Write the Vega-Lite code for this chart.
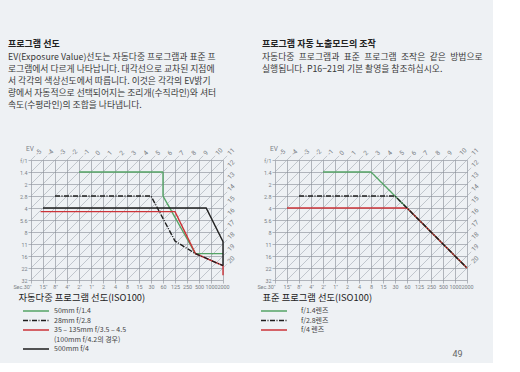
{
  "$schema": "https://vega.github.io/schema/vega-lite/v6.json",
  "background": "#eef1f4",
  "padding": {"left": 8, "top": 40, "right": 10, "bottom": 4},
  "bounds": "flush",
  "spacing": 52,
  "config": {
    "view": {"stroke": null},
    "font": "Noto Sans CJK KR",
    "axis": {
      "labelFont": "Roboto",
      "labelFontSize": 5.4,
      "labelColor": "#7a7f86",
      "tickColor": "#868c94",
      "tickSize": 3,
      "tickWidth": 0.6,
      "gridColor": "#868c94",
      "gridWidth": 0.6,
      "gridOpacity": 1,
      "domain": false,
      "labelPadding": 1,
      "labelOverlap": false,
      "labelFlush": false,
      "labelBound": false
    },
    "legend": {
      "orient": "none",
      "direction": "vertical",
      "symbolType": "M-1,0H4.2",
      "symbolSize": 100,
      "symbolStrokeWidth": 1.5,
      "labelFont": "Noto Sans CJK KR",
      "labelFontSize": 7,
      "labelColor": "#444",
      "rowPadding": 0.5,
      "padding": 0
    }
  },
  "datasets": {
    "ev": [
      {"ev": -5, "i1": 0, "j1": 0, "i2": 0.35, "j2": -0.35},
      {"ev": -4, "i1": 0, "j1": 1, "i2": 1.35, "j2": -0.35},
      {"ev": -3, "i1": 0, "j1": 2, "i2": 2.35, "j2": -0.35},
      {"ev": -2, "i1": 0, "j1": 3, "i2": 3.35, "j2": -0.35},
      {"ev": -1, "i1": 0, "j1": 4, "i2": 4.35, "j2": -0.35},
      {"ev": 0, "i1": 0, "j1": 5, "i2": 5.35, "j2": -0.35},
      {"ev": 1, "i1": 0, "j1": 6, "i2": 6.35, "j2": -0.35},
      {"ev": 2, "i1": 0, "j1": 7, "i2": 7.35, "j2": -0.35},
      {"ev": 3, "i1": 0, "j1": 8, "i2": 8.35, "j2": -0.35},
      {"ev": 4, "i1": 0, "j1": 9, "i2": 9.35, "j2": -0.35},
      {"ev": 5, "i1": 0, "j1": 10, "i2": 10.35, "j2": -0.35},
      {"ev": 6, "i1": 1, "j1": 10, "i2": 11.35, "j2": -0.35},
      {"ev": 7, "i1": 2, "j1": 10, "i2": 12.35, "j2": -0.35},
      {"ev": 8, "i1": 3, "j1": 10, "i2": 13.35, "j2": -0.35},
      {"ev": 9, "i1": 4, "j1": 10, "i2": 14.35, "j2": -0.35},
      {"ev": 10, "i1": 5, "j1": 10, "i2": 15.35, "j2": -0.35},
      {"ev": 11, "i1": 6, "j1": 10, "i2": 16.35, "j2": -0.35},
      {"ev": 12, "i1": 7, "j1": 10, "i2": 16.35, "j2": 0.65},
      {"ev": 13, "i1": 8, "j1": 10, "i2": 16.35, "j2": 1.65},
      {"ev": 14, "i1": 9, "j1": 10, "i2": 16.35, "j2": 2.65},
      {"ev": 15, "i1": 10, "j1": 10, "i2": 16.35, "j2": 3.65},
      {"ev": 16, "i1": 11, "j1": 10, "i2": 16.35, "j2": 4.65},
      {"ev": 17, "i1": 12, "j1": 10, "i2": 16.35, "j2": 5.65},
      {"ev": 18, "i1": 13, "j1": 10, "i2": 16.35, "j2": 6.65},
      {"ev": 19, "i1": 14, "j1": 10, "i2": 16.35, "j2": 7.65},
      {"ev": 20, "i1": 15, "j1": 10, "i2": 16.35, "j2": 8.65}
    ],
    "auto": [
      {"lens": "50mm f/1.4", "k": 1, "i": 4, "j": 1},
      {"lens": "50mm f/1.4", "k": 2, "i": 11, "j": 1},
      {"lens": "50mm f/1.4", "k": 3, "i": 11, "j": 3},
      {"lens": "50mm f/1.4", "k": 4, "i": 13.7, "j": 7.8},
      {"lens": "50mm f/1.4", "k": 5, "i": 16, "j": 7.8},
      {"lens": "35 – 135mm f/3.5 – 4.5", "k": 1, "i": 0.8, "j": 4.3},
      {"lens": "35 – 135mm f/3.5 – 4.5", "k": 2, "i": 12, "j": 4.3},
      {"lens": "35 – 135mm f/3.5 – 4.5", "k": 3, "i": 13.7, "j": 7.8},
      {"lens": "35 – 135mm f/3.5 – 4.5", "k": 4, "i": 16, "j": 8.8},
      {"lens": "35 – 135mm f/3.5 – 4.5", "k": 5, "i": 16, "j": 9.6},
      {"lens": "28mm f/2.8", "k": 1, "i": 2, "j": 3},
      {"lens": "28mm f/2.8", "k": 2, "i": 10, "j": 3},
      {"lens": "28mm f/2.8", "k": 3, "i": 12, "j": 6.75},
      {"lens": "28mm f/2.8", "k": 4, "i": 13.7, "j": 7.8},
      {"lens": "28mm f/2.8", "k": 5, "i": 16, "j": 8.8},
      {"lens": "500mm f/4", "k": 1, "i": 1, "j": 4},
      {"lens": "500mm f/4", "k": 2, "i": 14.6, "j": 4},
      {"lens": "500mm f/4", "k": 3, "i": 16, "j": 6.8},
      {"lens": "500mm f/4", "k": 4, "i": 16, "j": 8.8}
    ],
    "standard": [
      {"lens": "f/1.4렌즈", "k": 1, "i": 4, "j": 1},
      {"lens": "f/1.4렌즈", "k": 2, "i": 8, "j": 1},
      {"lens": "f/1.4렌즈", "k": 3, "i": 10, "j": 3},
      {"lens": "f/1.4렌즈", "k": 4, "i": 11, "j": 4},
      {"lens": "f/1.4렌즈", "k": 5, "i": 16, "j": 9},
      {"lens": "f/4 렌즈", "k": 1, "i": 1, "j": 4},
      {"lens": "f/4 렌즈", "k": 2, "i": 11, "j": 4},
      {"lens": "f/4 렌즈", "k": 3, "i": 16, "j": 9},
      {"lens": "f/2.8렌즈", "k": 1, "i": 2, "j": 3},
      {"lens": "f/2.8렌즈", "k": 2, "i": 10, "j": 3},
      {"lens": "f/2.8렌즈", "k": 3, "i": 11, "j": 4},
      {"lens": "f/2.8렌즈", "k": 4, "i": 16, "j": 9}
    ]
  },
  "title": {
    "text": "49",
    "orient": "bottom",
    "anchor": "end",
    "font": "Roboto",
    "fontSize": 9,
    "fontWeight": "normal",
    "color": "#666",
    "offset": 0,
    "dx": -20,
    "dy": -2
  },
  "hconcat": [
    {
      "width": 192,
      "height": 120,
      "title": {
        "text": "프로그램 선도",
        "subtitle": [
          "EV(Exposure Value)선도는 자동다중 프로그램과 표준 프",
          "로그램에서 다르게 나타납니다. 대각선으로 교차된 지점에",
          "서 각각의 색상선도에서 따릅니다. 이것은 각각의 EV밝기",
          "량에서 자동적으로 선택되어지는 조리개(수직라인)와 셔터",
          "속도(수평라인)의 조합을 나타냅니다."
        ],
        "anchor": "start",
        "frame": "group",
        "dx": -23,
        "offset": 36,
        "font": "Noto Sans CJK KR",
        "fontSize": 9,
        "fontWeight": "bold",
        "color": "#222",
        "subtitleFont": "Noto Sans CJK KR",
        "subtitleFontSize": 8.8,
        "subtitleColor": "#3a3a3a",
        "subtitleLineHeight": 12,
        "subtitlePadding": 4
      },
      "layer": [
        {
          "data": {"name": "ev"},
          "mark": {"type": "rule", "color": "#a3aab1", "strokeWidth": 0.6},
          "encoding": {
            "x": {
              "field": "i1", "type": "quantitative",
              "scale": {"domain": [0, 16], "nice": false, "zero": false},
              "axis": {
                "values": [0,1,2,3,4,5,6,7,8,9,10,11,12,13,14,15,16],
                "grid": true,
                "labelAlign": {"condition": {"test": "datum.value == 0", "value": "right"}, "value": "center"},
                "labelExpr": "['Sec.30\"','15\"','8\"','4\"','2\"','1\"','2','4','8','15','30','60','125','250','500','1000','2000'][datum.value]",
                "title": "자동다중 프로그램 선도(ISO100)",
                "titleFont": "Noto Sans CJK KR",
                "titleFontSize": 9.3,
                "titleFontWeight": "normal",
                "titleColor": "#222",
                "titleAnchor": "start",
                "titleAlign": "left",
                "titleX": -13,
                "titleY": 13
              }
            },
            "x2": {"field": "i2"},
            "y": {
              "field": "j1", "type": "quantitative",
              "scale": {"domain": [0, 10], "reverse": true, "nice": false, "zero": false},
              "axis": {
                "values": [0,1,2,3,4,5,6,7,8,9,10],
                "grid": true,
                "labelExpr": "['f/1','1.4','2','2.8','4','5.6','8','11','16','22','32'][datum.value]",
                "title": null
              }
            },
            "y2": {"field": "j2"}
          }
        },
        {
          "data": {"name": "ev"},
          "mark": {"type": "text", "angle": -45, "align": "left", "baseline": "middle", "dx": 2, "font": "Roboto", "fontSize": 6.5, "color": "#7a7f86"},
          "encoding": {
            "x": {
              "field": "i2", "type": "quantitative",
              "axis": {
                "values": [0,1,2,3,4,5,6,7,8,9,10,11,12,13,14,15,16],
                "grid": true,
                "labelAlign": {"condition": {"test": "datum.value == 0", "value": "right"}, "value": "center"},
                "labelExpr": "['Sec.30\"','15\"','8\"','4\"','2\"','1\"','2','4','8','15','30','60','125','250','500','1000','2000'][datum.value]",
                "title": "자동다중 프로그램 선도(ISO100)",
                "titleFont": "Noto Sans CJK KR",
                "titleFontSize": 9.3,
                "titleFontWeight": "normal",
                "titleColor": "#222",
                "titleAnchor": "start",
                "titleAlign": "left",
                "titleX": -13,
                "titleY": 13
              }
            },
            "y": {
              "field": "j2", "type": "quantitative",
              "axis": {
                "values": [0,1,2,3,4,5,6,7,8,9,10],
                "grid": true,
                "labelExpr": "['f/1','1.4','2','2.8','4','5.6','8','11','16','22','32'][datum.value]",
                "title": null
              }
            },
            "text": {"field": "ev", "type": "nominal"}
          }
        },
        {
          "data": {"name": "ev"},
          "transform": [{"filter": "datum.ev == -5"}],
          "mark": {"type": "text", "text": "EV", "align": "center", "baseline": "middle", "dx": -1, "dy": -11, "font": "Roboto", "fontSize": 6.5, "color": "#7a7f86"},
          "encoding": {
            "x": {
              "field": "i1", "type": "quantitative",
              "axis": {
                "values": [0,1,2,3,4,5,6,7,8,9,10,11,12,13,14,15,16],
                "grid": true,
                "labelAlign": {"condition": {"test": "datum.value == 0", "value": "right"}, "value": "center"},
                "labelExpr": "['Sec.30\"','15\"','8\"','4\"','2\"','1\"','2','4','8','15','30','60','125','250','500','1000','2000'][datum.value]",
                "title": "자동다중 프로그램 선도(ISO100)",
                "titleFont": "Noto Sans CJK KR",
                "titleFontSize": 9.3,
                "titleFontWeight": "normal",
                "titleColor": "#222",
                "titleAnchor": "start",
                "titleAlign": "left",
                "titleX": -13,
                "titleY": 13
              }
            },
            "y": {
              "field": "j1", "type": "quantitative",
              "axis": {
                "values": [0,1,2,3,4,5,6,7,8,9,10],
                "grid": true,
                "labelExpr": "['f/1','1.4','2','2.8','4','5.6','8','11','16','22','32'][datum.value]",
                "title": null
              }
            }
          }
        },
        {
          "data": {"name": "auto"},
          "mark": {"type": "line", "strokeWidth": 1.4},
          "encoding": {
            "x": {
              "field": "i", "type": "quantitative",
              "axis": {
                "values": [0,1,2,3,4,5,6,7,8,9,10,11,12,13,14,15,16],
                "grid": true,
                "labelAlign": {"condition": {"test": "datum.value == 0", "value": "right"}, "value": "center"},
                "labelExpr": "['Sec.30\"','15\"','8\"','4\"','2\"','1\"','2','4','8','15','30','60','125','250','500','1000','2000'][datum.value]",
                "title": "자동다중 프로그램 선도(ISO100)",
                "titleFont": "Noto Sans CJK KR",
                "titleFontSize": 9.3,
                "titleFontWeight": "normal",
                "titleColor": "#222",
                "titleAnchor": "start",
                "titleAlign": "left",
                "titleX": -13,
                "titleY": 13
              }
            },
            "y": {
              "field": "j", "type": "quantitative",
              "axis": {
                "values": [0,1,2,3,4,5,6,7,8,9,10],
                "grid": true,
                "labelExpr": "['f/1','1.4','2','2.8','4','5.6','8','11','16','22','32'][datum.value]",
                "title": null
              }
            },
            "order": {"field": "k"},
            "color": {
              "field": "lens", "type": "nominal",
              "scale": {
                "domain": ["50mm f/1.4", "28mm f/2.8", "35 – 135mm f/3.5 – 4.5", "(100mm f/4.2의 경우)", "500mm f/4"],
                "range": ["#55a466", "#1e1e1e", "#cc3338", "transparent", "#1e1e1e"]
              },
              "legend": {"title": null, "legendX": -9, "legendY": 145, "labelOffset": 20}
            },
            "strokeDash": {
              "field": "lens", "type": "nominal",
              "scale": {
                "domain": ["50mm f/1.4", "28mm f/2.8", "35 – 135mm f/3.5 – 4.5", "(100mm f/4.2의 경우)", "500mm f/4"],
                "range": [[1, 0], [5, 1.5, 1, 1.5], [1, 0], [1, 0], [1, 0]]
              },
              "legend": {"title": null, "legendX": -9, "legendY": 145, "labelOffset": 20}
            }
          }
        }
      ]
    },
    {
      "width": 192,
      "height": 120,
      "title": {
        "text": "프로그램 자동 노출모드의 조작",
        "subtitle": [
          "자동다중\u2002프로그램과\u2002표준\u2002프로그램\u2002조작은\u2002같은\u2002방법으로",
          "실행됩니다. P16−21의 기본 촬영을 참조하십시오."
        ],
        "anchor": "start",
        "frame": "group",
        "dx": -13,
        "offset": 72,
        "font": "Noto Sans CJK KR",
        "fontSize": 9,
        "fontWeight": "bold",
        "color": "#222",
        "subtitleFont": "Noto Sans CJK KR",
        "subtitleFontSize": 8.8,
        "subtitleColor": "#3a3a3a",
        "subtitleLineHeight": 12,
        "subtitlePadding": 4
      },
      "layer": [
        {
          "data": {"name": "ev"},
          "mark": {"type": "rule", "color": "#a3aab1", "strokeWidth": 0.6},
          "encoding": {
            "x": {
              "field": "i1", "type": "quantitative",
              "scale": {"domain": [0, 16], "nice": false, "zero": false},
              "axis": {
                "values": [0,1,2,3,4,5,6,7,8,9,10,11,12,13,14,15,16],
                "grid": true,
                "labelAlign": {"condition": {"test": "datum.value == 0", "value": "right"}, "value": "center"},
                "labelExpr": "['Sec.30\"','15\"','8\"','4\"','2\"','1\"','2','4','8','15','30','60','125','250','500','1000','2000'][datum.value]",
                "title": "표준 프로그램 선도(ISO100)",
                "titleFont": "Noto Sans CJK KR",
                "titleFontSize": 9.3,
                "titleFontWeight": "normal",
                "titleColor": "#222",
                "titleAnchor": "start",
                "titleAlign": "left",
                "titleX": -13,
                "titleY": 13
              }
            },
            "x2": {"field": "i2"},
            "y": {
              "field": "j1", "type": "quantitative",
              "scale": {"domain": [0, 10], "reverse": true, "nice": false, "zero": false},
              "axis": {
                "values": [0,1,2,3,4,5,6,7,8,9,10],
                "grid": true,
                "labelExpr": "['f/1','1.4','2','2.8','4','5.6','8','11','16','22','32'][datum.value]",
                "title": null
              }
            },
            "y2": {"field": "j2"}
          }
        },
        {
          "data": {"name": "ev"},
          "mark": {"type": "text", "angle": -45, "align": "left", "baseline": "middle", "dx": 2, "font": "Roboto", "fontSize": 6.5, "color": "#7a7f86"},
          "encoding": {
            "x": {
              "field": "i2", "type": "quantitative",
              "axis": {
                "values": [0,1,2,3,4,5,6,7,8,9,10,11,12,13,14,15,16],
                "grid": true,
                "labelAlign": {"condition": {"test": "datum.value == 0", "value": "right"}, "value": "center"},
                "labelExpr": "['Sec.30\"','15\"','8\"','4\"','2\"','1\"','2','4','8','15','30','60','125','250','500','1000','2000'][datum.value]",
                "title": "표준 프로그램 선도(ISO100)",
                "titleFont": "Noto Sans CJK KR",
                "titleFontSize": 9.3,
                "titleFontWeight": "normal",
                "titleColor": "#222",
                "titleAnchor": "start",
                "titleAlign": "left",
                "titleX": -13,
                "titleY": 13
              }
            },
            "y": {
              "field": "j2", "type": "quantitative",
              "axis": {
                "values": [0,1,2,3,4,5,6,7,8,9,10],
                "grid": true,
                "labelExpr": "['f/1','1.4','2','2.8','4','5.6','8','11','16','22','32'][datum.value]",
                "title": null
              }
            },
            "text": {"field": "ev", "type": "nominal"}
          }
        },
        {
          "data": {"name": "ev"},
          "transform": [{"filter": "datum.ev == -5"}],
          "mark": {"type": "text", "text": "EV", "align": "center", "baseline": "middle", "dx": -1, "dy": -11, "font": "Roboto", "fontSize": 6.5, "color": "#7a7f86"},
          "encoding": {
            "x": {
              "field": "i1", "type": "quantitative",
              "axis": {
                "values": [0,1,2,3,4,5,6,7,8,9,10,11,12,13,14,15,16],
                "grid": true,
                "labelAlign": {"condition": {"test": "datum.value == 0", "value": "right"}, "value": "center"},
                "labelExpr": "['Sec.30\"','15\"','8\"','4\"','2\"','1\"','2','4','8','15','30','60','125','250','500','1000','2000'][datum.value]",
                "title": "표준 프로그램 선도(ISO100)",
                "titleFont": "Noto Sans CJK KR",
                "titleFontSize": 9.3,
                "titleFontWeight": "normal",
                "titleColor": "#222",
                "titleAnchor": "start",
                "titleAlign": "left",
                "titleX": -13,
                "titleY": 13
              }
            },
            "y": {
              "field": "j1", "type": "quantitative",
              "axis": {
                "values": [0,1,2,3,4,5,6,7,8,9,10],
                "grid": true,
                "labelExpr": "['f/1','1.4','2','2.8','4','5.6','8','11','16','22','32'][datum.value]",
                "title": null
              }
            }
          }
        },
        {
          "data": {"name": "standard"},
          "mark": {"type": "line", "strokeWidth": 1.4},
          "encoding": {
            "x": {
              "field": "i", "type": "quantitative",
              "axis": {
                "values": [0,1,2,3,4,5,6,7,8,9,10,11,12,13,14,15,16],
                "grid": true,
                "labelAlign": {"condition": {"test": "datum.value == 0", "value": "right"}, "value": "center"},
                "labelExpr": "['Sec.30\"','15\"','8\"','4\"','2\"','1\"','2','4','8','15','30','60','125','250','500','1000','2000'][datum.value]",
                "title": "표준 프로그램 선도(ISO100)",
                "titleFont": "Noto Sans CJK KR",
                "titleFontSize": 9.3,
                "titleFontWeight": "normal",
                "titleColor": "#222",
                "titleAnchor": "start",
                "titleAlign": "left",
                "titleX": -13,
                "titleY": 13
              }
            },
            "y": {
              "field": "j", "type": "quantitative",
              "axis": {
                "values": [0,1,2,3,4,5,6,7,8,9,10],
                "grid": true,
                "labelExpr": "['f/1','1.4','2','2.8','4','5.6','8','11','16','22','32'][datum.value]",
                "title": null
              }
            },
            "order": {"field": "k"},
            "color": {
              "field": "lens", "type": "nominal",
              "scale": {
                "domain": ["f/1.4렌즈", "f/2.8렌즈", "f/4 렌즈"],
                "range": ["#55a466", "#1e1e1e", "#cc3338"]
              },
              "legend": {"title": null, "legendX": -15, "legendY": 145, "labelOffset": 29}
            },
            "strokeDash": {
              "field": "lens", "type": "nominal",
              "scale": {
                "domain": ["f/1.4렌즈", "f/2.8렌즈", "f/4 렌즈"],
                "range": [[1, 0], [5, 1.5, 1, 1.5], [1, 0]]
              },
              "legend": {"title": null, "legendX": -15, "legendY": 145, "labelOffset": 29}
            }
          }
        }
      ]
    }
  ],
  "resolve": {
    "scale": {"color": "independent", "strokeDash": "independent", "x": "independent", "y": "independent"},
    "legend": {"color": "independent", "strokeDash": "independent"}
  }
}
